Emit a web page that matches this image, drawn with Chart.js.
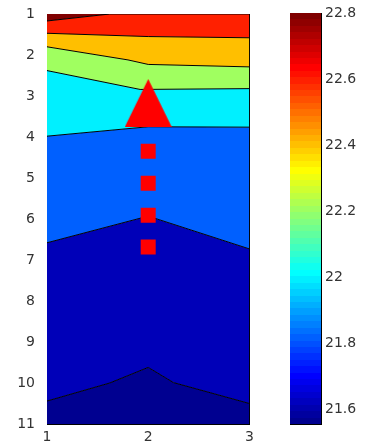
<!DOCTYPE html>
<html>
<head>
<meta charset="utf-8">
<script src="https://cdn.jsdelivr.net/npm/chart.js@4/dist/chart.umd.min.js"></script>
<style>
  body { margin: 0; background: #fff; }
  #wrap { position: relative; width: 375px; height: 447px; }
  #main { position: absolute; left: 0; top: 0; }
  #bar { position: absolute; left: 260px; top: 0; }
</style>
</head>
<body>
<div id="wrap">
  <canvas id="main" width="260" height="447"></canvas>
  <canvas id="bar" width="115" height="447"></canvas>
</div>
<script>
// contour boundaries, top to bottom (x = column, y = depth)
const level1 = [{x: 1, y: 1.17}, {x: 1.62, y: 1}, {x: 3, y: 1}];
const level2 = [{x: 1, y: 1.47}, {x: 2, y: 1.55}, {x: 3, y: 1.58}];
const level3 = [{x: 1, y: 1.8}, {x: 1.8, y: 2.12}, {x: 2, y: 2.23}, {x: 3, y: 2.29}];
const level4 = [{x: 1, y: 2.38}, {x: 1.92, y: 2.84}, {x: 3, y: 2.82}];
const level5 = [{x: 1, y: 3.98}, {x: 2, y: 3.75}, {x: 3, y: 3.76}];
const level6 = [{x: 1, y: 6.58}, {x: 2, y: 5.93}, {x: 3, y: 6.73}];
const level7 = [{x: 1, y: 10.44}, {x: 1.62, y: 10}, {x: 2, y: 9.62}, {x: 2.25, y: 9.99}, {x: 3, y: 10.5}];

const triangleMarker = [{x: 2, y: 3.17}];
const squareMarkers = [{x: 2, y: 4.35}, {x: 2, y: 5.13}, {x: 2, y: 5.91}, {x: 2, y: 6.68}];

const xTicks = [1, 2, 3];
const yTicks = [1, 2, 3, 4, 5, 6, 7, 8, 9, 10, 11];
const colorRange = [21.555, 22.8];
const colorTicks = [21.6, 21.8, 22, 22.2, 22.4, 22.6, 22.8];

Chart.defaults.font.family = '"DejaVu Sans", Arial, sans-serif';
Chart.defaults.font.size = 14;
Chart.defaults.color = '#333';

const setTicks = list => scale => { scale.ticks = list.map(v => ({value: v})); };
const noOverflow = scale => {
    scale.paddingTop = 0;
    scale.paddingBottom = 0;
    scale.paddingLeft = 0;
    scale.paddingRight = 0;
};
const fixWidth = w => scale => { scale.width = w; noOverflow(scale); };
const fixHeight = h => scale => { scale.height = h; noOverflow(scale); };

const edge = {display: true, color: '#000', width: 1};
const inward = {drawOnChartArea: false, drawTicks: true, tickLength: -5, color: '#000'};

const boundary = (data, fill, color) => ({
    data: data,
    fill: fill,
    backgroundColor: color,
    borderColor: '#000',
    borderWidth: 1,
    pointRadius: 0,
    tension: 0
});

const tri = document.createElement('canvas');
tri.width = 47;
tri.height = 48;
const tctx = tri.getContext('2d');
tctx.fillStyle = '#ff0000';
tctx.beginPath();
tctx.moveTo(23.5, 0);
tctx.lineTo(47, 48);
tctx.lineTo(0, 48);
tctx.closePath();
tctx.fill();

new Chart(document.getElementById('main'), {
    type: 'line',
    data: {
        datasets: [
            boundary(level1, 'end', '#800000'),
            boundary(level2, '-1', '#ff2000'),
            boundary(level3, '-1', '#ffbf00'),
            boundary(level4, '-1', '#a0ff60'),
            boundary(level5, '-1', '#00f0ff'),
            boundary(level6, '-1', '#0060ff'),
            boundary(level7, '-1', '#0000b8'),
            Object.assign(boundary(level7, 'start', '#000090'), {borderWidth: 0}),
            {
                data: triangleMarker,
                showLine: false,
                pointStyle: tri,
                order: -1
            },
            {
                data: squareMarkers,
                showLine: false,
                pointStyle: 'rect',
                pointRadius: 10.6,
                pointBorderWidth: 0,
                pointBackgroundColor: '#ff0000',
                order: -1
            }
        ]
    },
    options: {
        responsive: false,
        animation: false,
        devicePixelRatio: 1,
        events: [],
        layout: {padding: 0},
        plugins: {
            legend: {display: false},
            tooltip: {enabled: false},
            filler: {drawTime: 'beforeDatasetsDraw'}
        },
        scales: {
            x: {
                type: 'linear', position: 'bottom', min: 1, max: 3,
                afterBuildTicks: setTicks(xTicks), afterFit: fixHeight(23),
                grid: inward, border: edge,
                ticks: {padding: 10, maxRotation: 0}
            },
            x2: {
                type: 'linear', position: 'top', min: 1, max: 3,
                afterBuildTicks: setTicks(xTicks), afterFit: fixHeight(14),
                grid: inward, border: edge,
                ticks: {display: false}
            },
            y: {
                type: 'linear', position: 'left', min: 1, max: 11, reverse: true,
                afterBuildTicks: setTicks(yTicks), afterFit: fixWidth(47),
                grid: inward, border: edge,
                ticks: {padding: 17}
            },
            y2: {
                type: 'linear', position: 'right', min: 1, max: 11, reverse: true,
                afterBuildTicks: setTicks(yTicks), afterFit: fixWidth(1),
                grid: inward, border: edge,
                ticks: {display: false}
            }
        }
    }
});

// matlab jet(64)
function jet(i) {
    const u = k => (k < 1 || k > 47) ? 0 : (k <= 16 ? k / 16 : (k <= 31 ? 1 : (48 - k) / 16));
    return 'rgb(' + [u(i - 24), u(i - 8), u(i + 8)].map(v => Math.round(v * 255)).join(',') + ')';
}

function jetGradient(context) {
    const chart = context.chart;
    const area = chart.chartArea;
    if (!area) return null;
    const g = chart.ctx.createLinearGradient(0, area.bottom, 0, area.top);
    for (let i = 0; i < 64; i++) {
        g.addColorStop(i / 64, jet(i + 1));
        g.addColorStop((i + 1) / 64, jet(i + 1));
    }
    return g;
}

new Chart(document.getElementById('bar'), {
    type: 'bar',
    data: {
        labels: [''],
        datasets: [{
            data: [colorRange],
            backgroundColor: jetGradient,
            borderWidth: 0,
            barPercentage: 1,
            categoryPercentage: 1
        }]
    },
    options: {
        responsive: false,
        animation: false,
        devicePixelRatio: 1,
        events: [],
        layout: {padding: 0},
        plugins: {legend: {display: false}, tooltip: {enabled: false}},
        scales: {
            x: {
                position: 'bottom', afterFit: fixHeight(23),
                grid: {display: false}, border: edge, ticks: {display: false}
            },
            x2: {
                position: 'top', afterFit: fixHeight(13),
                grid: {display: false}, border: edge, ticks: {display: false}
            },
            y: {
                type: 'linear', position: 'left', min: colorRange[0], max: colorRange[1],
                afterBuildTicks: setTicks(colorTicks), afterFit: fixWidth(30),
                grid: inward, border: edge, ticks: {display: false}
            },
            y2: {
                type: 'linear', position: 'right', min: colorRange[0], max: colorRange[1],
                afterBuildTicks: setTicks(colorTicks), afterFit: fixWidth(54),
                grid: inward, border: edge,
                ticks: {padding: 9, callback: v => String(v)}
            }
        }
    }
});
</script>
</body>
</html>
